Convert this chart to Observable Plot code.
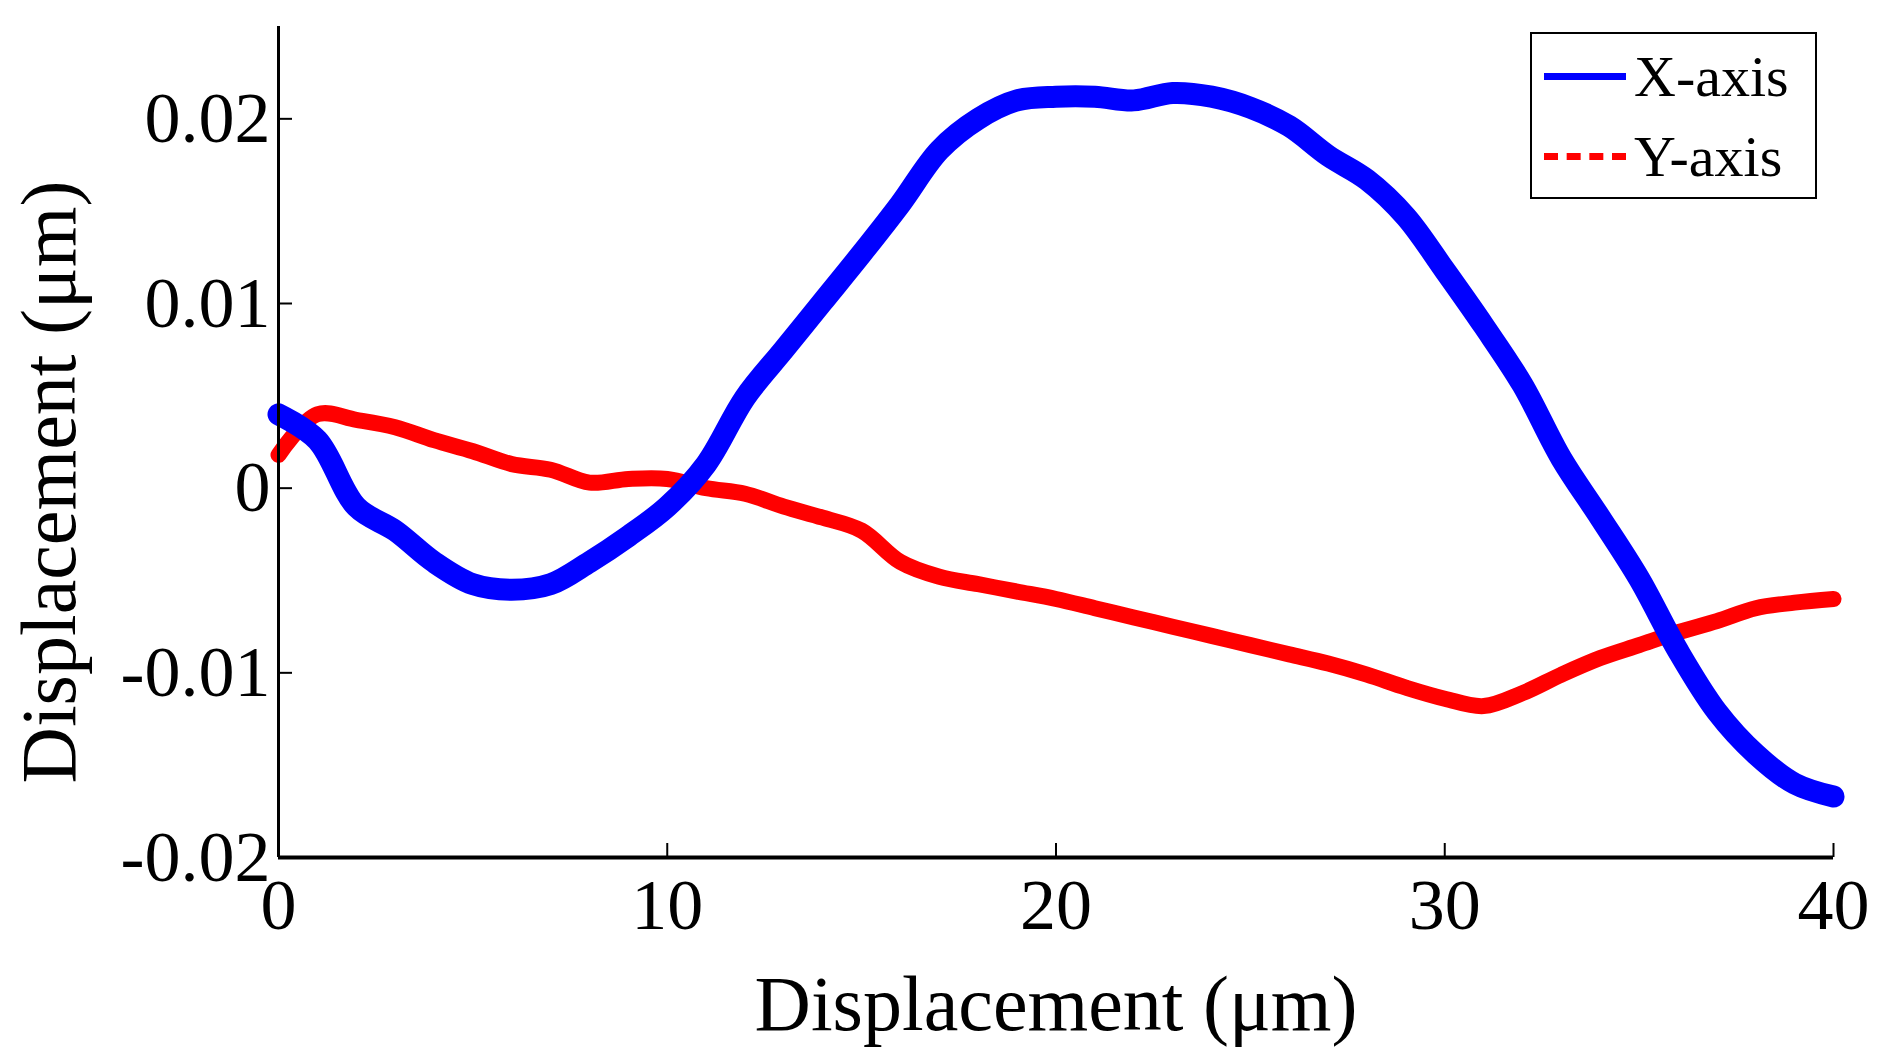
<!DOCTYPE html>
<html><head>
<script src="https://cdn.jsdelivr.net/npm/d3@7"></script>
<script src="https://cdn.jsdelivr.net/npm/@observablehq/plot@0.6"></script>
<style>
body{margin:0;background:#fff;font-family:"Liberation Serif",serif;}
#wrap{position:relative;width:1877px;height:1053px;}
#legend{position:absolute;left:1530px;top:32px;width:287px;height:167px;border:2px solid #000;background:#fff;box-sizing:border-box;font-size:58px;}
.row{display:flex;align-items:center;height:80px;padding-left:12px;}
.sw{width:82px;height:0;margin-right:8px;}
</style></head><body>
<div id="wrap"><div id="chart"></div>
<div id="legend">
<div class="row" style="margin-top:2px"><div class="sw" style="border-top:7px solid #0000ff"></div>X-axis</div>
<div class="row"><div class="sw" style="border-top:7px dashed #ff0000"></div>Y-axis</div>
</div></div>
<script>
const xs = d3.range(0, 41);
const xAxisVals = [0.004,0.0026,-0.001,-0.0023,-0.004,-0.0052,-0.0055,-0.0052,-0.004,-0.0026,-0.001,0.0013,0.0049,0.0075,0.0101,0.0127,0.0154,0.0183,0.0200,0.0210,0.0212,0.0212,0.0210,0.0214,0.0212,0.0206,0.0196,0.0180,0.0167,0.0147,0.0118,0.0088,0.0056,0.0016,-0.0016,-0.0049,-0.0088,-0.0121,-0.0144,-0.0160,-0.0167];
const yAxisVals = [0.0018,0.0040,0.0037,0.0033,0.0026,0.0020,0.0013,0.0010,0.0003,0.0005,0.0005,0,-0.0003,-0.0010,-0.0016,-0.0023,-0.0040,-0.0048,-0.0052,-0.0056,-0.0060,-0.0065,-0.0070,-0.0075,-0.0080,-0.0085,-0.0090,-0.0095,-0.0101,-0.0108,-0.0114,-0.0118,-0.0111,-0.0101,-0.0092,-0.0085,-0.0078,-0.0072,-0.0065,-0.0062,-0.0060];
const xTicks = [0,10,20,30,40];
const yTicks = [-0.02,-0.01,0,0.01,0.02];
const yTickLabels = ["-0.02","-0.01","0","0.01","0.02"];
const dataX = xs.map((x,i)=>({x, v:xAxisVals[i]}));
const dataY = xs.map((x,i)=>({x, v:yAxisVals[i]}));
const chart = Plot.plot({
  width:1877, height:1053,
  marginLeft:278, marginRight:44, marginTop:26, marginBottom:196,
  style:{fontFamily:"Liberation Serif", fontSize:"72px", color:"#000", background:"#fff"},
  x:{domain:[0,40]},
  y:{domain:[-0.02,0.025]},
  marks:[
    Plot.line(dataY,{x:"x",y:"v",stroke:"#ff0000",strokeWidth:16,curve:"catmull-rom"}),
    Plot.line(dataX,{x:"x",y:"v",stroke:"#0000ff",strokeWidth:22,curve:"catmull-rom"}),
    Plot.axisX({ticks:xTicks, tickSize:0, tickPadding:20, fontSize:72, label:null}),
    Plot.axisX({ticks:xTicks, tickSize:-14, text:null, label:null, strokeWidth:2}),
    Plot.axisY({ticks:yTicks, tickFormat:(d)=>yTickLabels[yTicks.indexOf(d)], tickSize:0, tickPadding:8, fontSize:72, label:null}),
    Plot.axisY({ticks:yTicks, tickSize:-14, text:null, label:null, strokeWidth:2}),
    Plot.ruleY([-0.02],{strokeWidth:4}),
    Plot.ruleX([0],{strokeWidth:3}),
    Plot.text(["Displacement (μm)"],{frameAnchor:"bottom", dy:148, lineAnchor:"middle", textAnchor:"middle", fontSize:78, fontFamily:"Liberation Serif"}),
    Plot.text(["Displacement (μm)"],{frameAnchor:"left", dx:-228, dy:40, textAnchor:"middle", lineAnchor:"middle", rotate:-90, fontSize:78, fontFamily:"Liberation Serif"})
  ]
});
document.getElementById("chart").appendChild(chart);
</script></body></html>
